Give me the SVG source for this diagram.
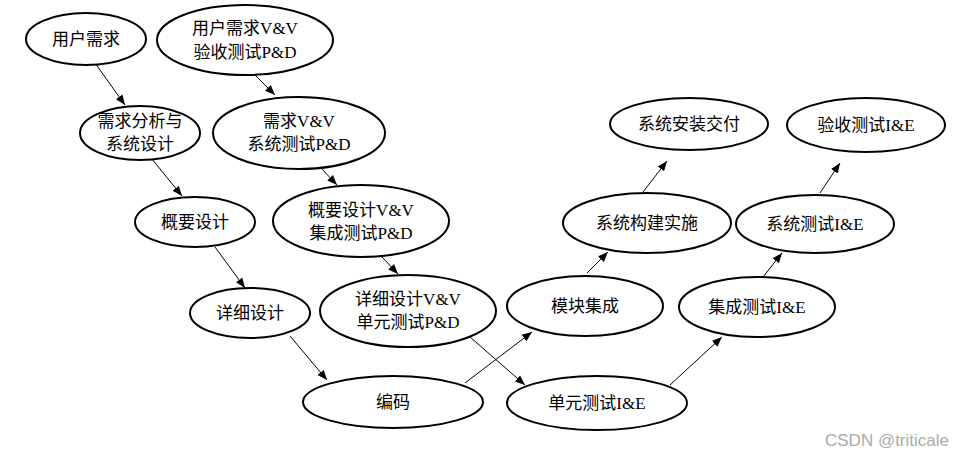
<svg xmlns="http://www.w3.org/2000/svg" width="961" height="459" viewBox="0 0 961 459">
<defs>
<marker id="ah" viewBox="0 0 10 10" refX="10" refY="5" markerWidth="10" markerHeight="10" markerUnits="userSpaceOnUse" orient="auto">
<path d="M0,1 L10,5 L0,9 z" fill="#000"/>
</marker>
<style>
.n ellipse{fill:#fff;stroke:#000;stroke-width:2}
.n text{font-family:"Liberation Serif","Noto Sans CJK SC",serif;font-size:17px;fill:#000;text-anchor:middle}
#edges line{stroke:#000;stroke-width:1;marker-end:url(#ah)}
.wm{font-family:"Liberation Sans","Noto Sans",sans-serif;font-size:17px;fill:#aaa}
</style>
</defs>
<rect width="961" height="459" fill="#fff"/>
<g id="edges">
<line x1="95" y1="63" x2="125" y2="105"/>
<line x1="255" y1="75" x2="275" y2="95"/>
<line x1="152" y1="159" x2="182" y2="196"/>
<line x1="320" y1="167" x2="337" y2="185"/>
<line x1="215" y1="247" x2="245" y2="288"/>
<line x1="382" y1="257" x2="398" y2="274"/>
<line x1="290" y1="336" x2="327" y2="380"/>
<line x1="465" y1="383" x2="532" y2="332"/>
<line x1="470" y1="337" x2="525" y2="385"/>
<line x1="670" y1="385" x2="722" y2="337"/>
<line x1="587" y1="273" x2="608" y2="252"/>
<line x1="763" y1="277" x2="782" y2="253"/>
<line x1="643" y1="192" x2="667" y2="161"/>
<line x1="820" y1="193" x2="840" y2="163"/>
</g>
<g id="n1" class="n"><ellipse cx="86" cy="39" rx="60" ry="26"/><text x="86" y="45">用户需求</text></g>
<g id="n2" class="n"><ellipse cx="245" cy="40" rx="88" ry="35"/><text x="245" y="34">用户需求V&amp;V</text><text x="245" y="58">验收测试P&amp;D</text></g>
<g id="n3" class="n"><ellipse cx="140" cy="133" rx="60" ry="27"/><text x="140" y="127">需求分析与</text><text x="140" y="150">系统设计</text></g>
<g id="n4" class="n"><ellipse cx="299" cy="133" rx="86" ry="36"/><text x="299" y="127">需求V&amp;V</text><text x="299" y="150">系统测试P&amp;D</text></g>
<g id="n5" class="n"><ellipse cx="195" cy="222" rx="60" ry="25"/><text x="195" y="228">概要设计</text></g>
<g id="n6" class="n"><ellipse cx="361" cy="221" rx="88" ry="36"/><text x="361" y="216">概要设计V&amp;V</text><text x="361" y="239">集成测试P&amp;D</text></g>
<g id="n7" class="n"><ellipse cx="250" cy="313" rx="60" ry="25"/><text x="250" y="319">详细设计</text></g>
<g id="n8" class="n"><ellipse cx="408" cy="311" rx="88" ry="36"/><text x="408" y="305">详细设计V&amp;V</text><text x="408" y="328">单元测试P&amp;D</text></g>
<g id="n9" class="n"><ellipse cx="393" cy="402" rx="90" ry="26"/><text x="393" y="408">编码</text></g>
<g id="n10" class="n"><ellipse cx="585" cy="306" rx="78" ry="30"/><text x="585" y="312">模块集成</text></g>
<g id="n11" class="n"><ellipse cx="597" cy="403" rx="90" ry="27"/><text x="597" y="409">单元测试I&amp;E</text></g>
<g id="n12" class="n"><ellipse cx="757" cy="307" rx="78" ry="30"/><text x="757" y="313">集成测试I&amp;E</text></g>
<g id="n13" class="n"><ellipse cx="647" cy="223" rx="84" ry="30"/><text x="647" y="229">系统构建实施</text></g>
<g id="n14" class="n"><ellipse cx="815" cy="224" rx="79" ry="29"/><text x="815" y="230">系统测试I&amp;E</text></g>
<g id="n15" class="n"><ellipse cx="689" cy="124" rx="79" ry="26"/><text x="689" y="130">系统安装交付</text></g>
<g id="n16" class="n"><ellipse cx="866" cy="125" rx="79" ry="27"/><text x="866" y="131">验收测试I&amp;E</text></g>
<text class="wm" x="825" y="446">CSDN @triticale</text>
</svg>
